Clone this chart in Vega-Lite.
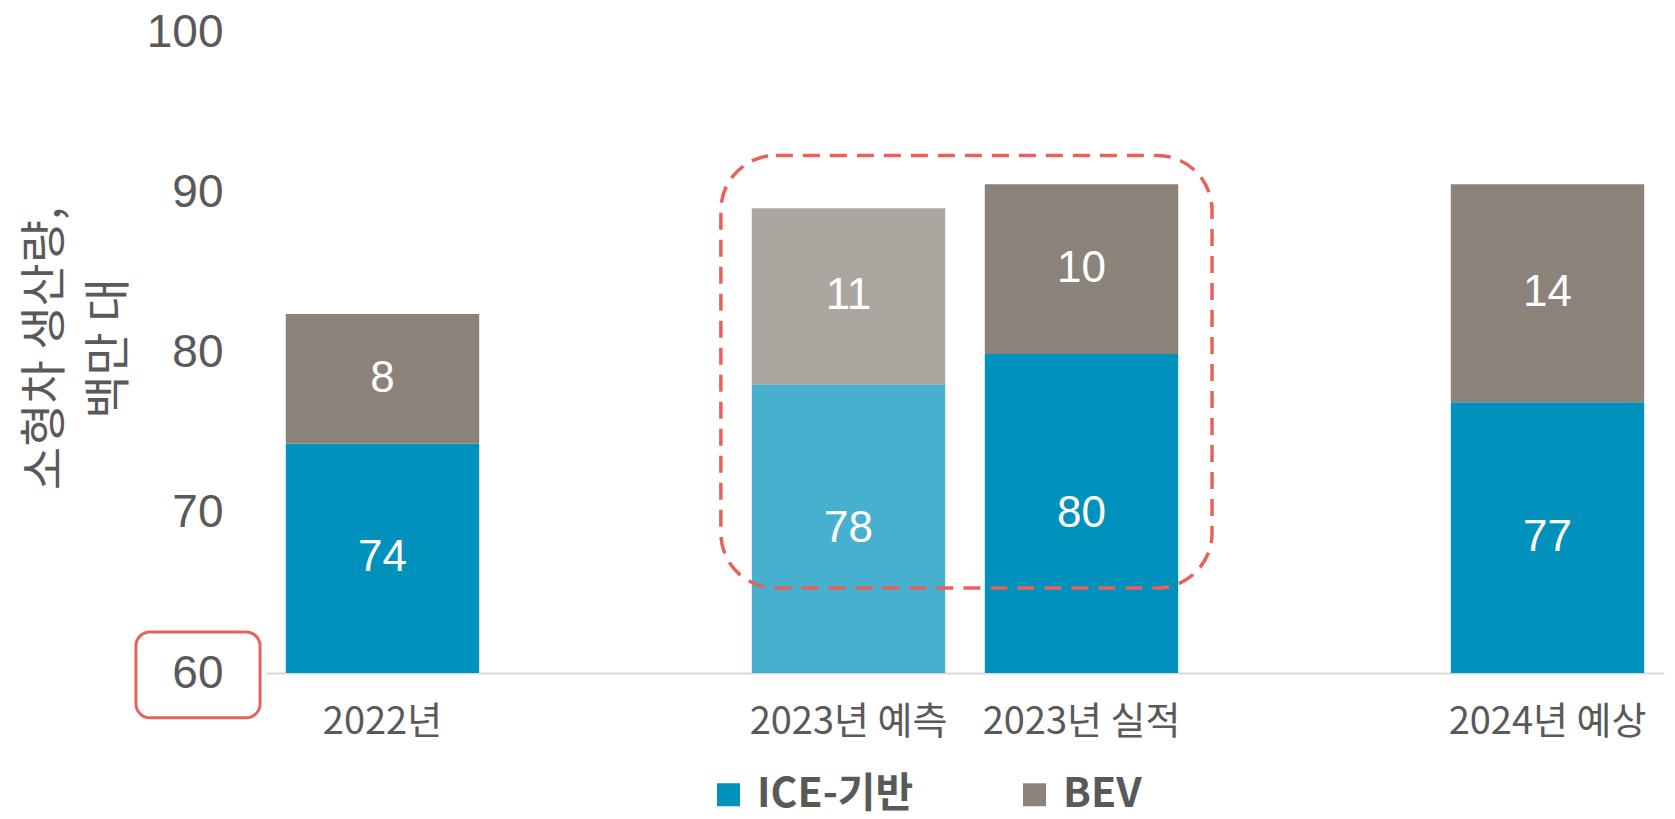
{
  "$schema": "https://vega.github.io/schema/vega-lite/v6.json",
  "width": 1398,
  "height": 641,
  "autosize": {"type": "none"},
  "padding": {"left": 266, "top": 32, "right": 11, "bottom": 146},
  "background": "white",
  "config": {"view": {"stroke": null}},
  "data": {"values": [
    {"cat": "2022년", "series": "ICE-기반", "basis": "실적", "value": 74.3, "label": "74"},
    {"cat": "2022년", "series": "BEV", "basis": "실적", "value": 8.1, "label": "8"},
    {"cat": "2023년 예측", "series": "ICE-기반", "basis": "예측", "value": 78.0, "label": "78"},
    {"cat": "2023년 예측", "series": "BEV", "basis": "예측", "value": 11.0, "label": "11"},
    {"cat": "2023년 실적", "series": "ICE-기반", "basis": "실적", "value": 79.9, "label": "80"},
    {"cat": "2023년 실적", "series": "BEV", "basis": "실적", "value": 10.6, "label": "10"},
    {"cat": "2024년 예상", "series": "ICE-기반", "basis": "예상", "value": 76.9, "label": "77"},
    {"cat": "2024년 예상", "series": "BEV", "basis": "예상", "value": 13.6, "label": "14"}
  ]},
  "transform": [
    {"stack": "value", "groupby": ["cat"], "sort": [{"field": "series", "order": "descending"}], "as": ["v0", "v1"]},
    {"calculate": "(max(datum.v0, 60) + datum.v1) / 2", "as": "mid"}
  ],
  "layer": [
    {
      "mark": {"type": "bar", "clip": true},
      "encoding": {
        "x": {
          "field": "cat", "type": "nominal", "sort": null,
          "scale": {"domain": ["2022년", "gap1", "2023년 예측", "2023년 실적", "gap2", "2024년 예상"], "paddingInner": 0.17, "paddingOuter": 0.085},
          "axis": {
            "title": null,
            "labelExpr": "indexof(datum.label, 'gap') == 0 ? '' : datum.label",
            "labelAngle": 0,
            "labelLimit": 0,
            "labelOverlap": false,
            "labelFont": "Noto Sans CJK KR",
            "labelFontSize": 38,
            "labelColor": "#595959",
            "labelPadding": 30,
            "ticks": false,
            "domainColor": "#D9D9D9",
            "domainWidth": 2
          }
        },
        "y": {
          "field": "v0", "type": "quantitative",
          "scale": {"domain": [60, 100], "nice": false, "zero": false},
          "axis": {
            "title": ["소형차 생산량,", "백만 대"],
            "values": [60, 70, 80, 90, 100],
            "grid": false, "domain": false, "ticks": false,
            "labelFont": "Liberation Sans", "labelFontSize": 46, "labelColor": "#595959", "labelPadding": 43,
            "titleFont": "Noto Sans CJK KR", "titleFontSize": 47, "titleColor": "#595959", "titleFontWeight": "normal",
            "titleX": -221, "titleY": 316, "titleAngle": -90, "titleAlign": "center", "titleBaseline": "middle", "titleLineHeight": 64, "titleLimit": 0
          }
        },
        "y2": {"field": "v1"},
        "color": {
          "field": "series", "type": "nominal",
          "scale": {"domain": ["ICE-기반", "BEV"], "range": ["#0091BD", "#8B837A"]},
          "legend": {
            "title": null, "orient": "none", "legendX": 442, "legendY": 742, "direction": "horizontal",
            "symbolType": "square", "symbolSize": 529, "symbolStrokeWidth": 0,
            "labelFont": "Noto Sans CJK KR", "labelFontWeight": "bold", "labelFontSize": 41, "labelColor": "#595959",
            "labelOffset": 8, "labelLimit": 0, "columnPadding": 100, "padding": 0
          }
        },
        "opacity": {"condition": {"test": "datum.basis === '예측'", "value": 0.72}, "value": 1}
      }
    },
    {
      "mark": {"type": "text", "color": "white", "font": "Liberation Sans", "fontSize": 44, "baseline": "middle"},
      "encoding": {
        "x": {"field": "cat", "type": "nominal"},
        "y": {"field": "mid", "type": "quantitative"},
        "text": {"field": "label"}
      }
    },
    {
      "data": {"values": [{}]},
      "mark": {"type": "rect", "filled": false, "color": "#E8615B", "strokeWidth": 3.5, "strokeDash": [17, 10], "cornerRadius": 55, "clip": false},
      "encoding": {
        "x": {"datum": "2023년 예측", "type": "nominal", "bandPosition": -0.16},
        "x2": {"datum": "2023년 실적", "bandPosition": 1.175},
        "y": {"datum": 65.3, "type": "quantitative"},
        "y2": {"datum": 92.3}
      }
    },
    {
      "data": {"values": [{}]},
      "mark": {"type": "rect", "filled": false, "color": "#E8615B", "strokeWidth": 3, "cornerRadius": 14, "clip": false},
      "encoding": {
        "x": {"datum": "2022년", "type": "nominal", "bandPosition": -0.775},
        "x2": {"datum": "2022년", "bandPosition": -0.133},
        "y": {"datum": 57.2, "type": "quantitative"},
        "y2": {"datum": 62.56}
      }
    }
  ]
}
